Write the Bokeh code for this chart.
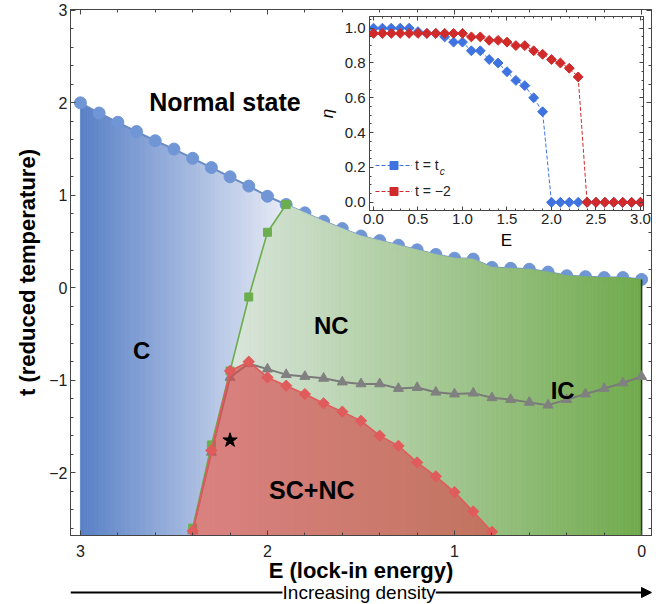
import numpy as np
from bokeh.plotting import figure
from bokeh.models import (Range1d, LinearAxis, FixedTicker, PrintfTickFormatter, Label,
                          Arrow, NormalHead, Legend, LegendItem)
from bokeh.layouts import column
from bokeh.core.properties import value
from bokeh.embed import file_html
from bokeh.resources import INLINE

# ---------------- data (main phase diagram) ----------------
E_normal = [3.0, 2.9, 2.8, 2.7, 2.6, 2.5, 2.4, 2.3, 2.2, 2.1, 2.0, 1.9, 1.8, 1.7, 1.6, 1.5,
            1.4, 1.3, 1.2, 1.1, 1.0, 0.9, 0.8, 0.7, 0.6, 0.5, 0.4, 0.3, 0.2, 0.1, 0.0]
t_normal = [2.00, 1.89, 1.79, 1.69, 1.59, 1.50, 1.40, 1.30, 1.20, 1.10, 0.99, 0.90, 0.81, 0.72,
            0.64, 0.56, 0.51, 0.46, 0.41, 0.36, 0.32, 0.31, 0.22, 0.21, 0.20, 0.17, 0.13, 0.12,
            0.11, 0.11, 0.09]

E_cnc = [2.4, 2.3, 2.2, 2.1, 2.0, 1.9]
t_cnc = [-2.60, -1.70, -0.90, -0.10, 0.60, 0.90]

E_sc = [2.4, 2.3, 2.2, 2.1, 2.0, 1.9, 1.8, 1.7, 1.6, 1.5, 1.4, 1.3, 1.2, 1.1, 1.0, 0.9, 0.8]
t_sc = [-2.63, -1.76, -0.90, -0.80, -0.97, -1.06, -1.15, -1.25, -1.34, -1.44, -1.60, -1.71,
        -1.89, -2.04, -2.21, -2.42, -2.64]

E_ic = [2.4, 2.3, 2.2, 2.1, 2.0, 1.9, 1.8, 1.7, 1.6, 1.5, 1.4, 1.3, 1.2, 1.1, 1.0, 0.9, 0.8,
        0.7, 0.6, 0.5, 0.4, 0.3, 0.2, 0.1, 0.0]
t_ic = [-2.63, -1.78, -0.97, -0.82, -0.88, -0.94, -0.96, -0.98, -1.02, -1.04, -1.04, -1.09,
        -1.08, -1.13, -1.15, -1.14, -1.19, -1.21, -1.24, -1.27, -1.21, -1.15, -1.09, -1.03, -0.96]

star_E = [2.2]
star_t = [-1.65]

region_names = ["Normal state", "C", "NC", "SC+NC", "IC"]
region_E = [2.227, 2.673, 1.659, 1.763, 0.422]
region_t = [2.004, -0.679, -0.408, -2.193, -1.112]

main_xticks = [0, 1, 2, 3]
main_yticks = [-2, -1, 0, 1, 2, 3]

# ---------------- data (inset) ----------------
E_inset = [0.0, 0.1, 0.2, 0.3, 0.4, 0.5, 0.6, 0.7, 0.8, 0.9, 1.0, 1.1, 1.2, 1.3, 1.4, 1.5,
           1.6, 1.7, 1.8, 1.9, 2.0, 2.1, 2.2, 2.3, 2.4, 2.5, 2.6, 2.7, 2.8, 2.9, 3.0]
eta_tc = [1.00, 1.00, 1.00, 1.00, 1.00, 0.98, 0.97, 0.97, 0.95, 0.92, 0.92, 0.87, 0.87, 0.82,
          0.80, 0.75, 0.70, 0.67, 0.60, 0.52, 0.0, 0.0, 0.0, 0.0, 0.0, 0.0, 0.0, 0.0, 0.0, 0.0, 0.0]
eta_m2 = [0.97, 0.97, 0.97, 0.97, 0.97, 0.97, 0.97, 0.97, 0.97, 0.97, 0.97, 0.95, 0.95, 0.93,
          0.93, 0.92, 0.90, 0.90, 0.87, 0.85, 0.82, 0.80, 0.77, 0.72, 0.0, 0.0, 0.0, 0.0, 0.0,
          0.0, 0.0]
inset_xticks = [0.0, 0.5, 1.0, 1.5, 2.0, 2.5, 3.0]
inset_yticks = [0.0, 0.2, 0.4, 0.6, 0.8, 1.0]

# ---------------- styles ----------------
FONT = "Liberation Sans"
YMIN, YMAX = -2.68, 3.01
XLEFT, XRIGHT = 3.053, -0.053
BLUE_DARK = np.array([88, 128, 198])
BLUE_LIGHT = np.array([232, 236, 246])
GREEN_DARK = np.array([112, 170, 76])
GREEN_LIGHT = np.array([222, 232, 226])
C_NORMAL = "#7096d6"
C_GREEN = "#6cae4e"
C_RED = "#e05c5c"
C_GRAY = "#808080"
C_IN_BLUE = "#3f73e0"
C_IN_RED = "#d12a2a"


def hexcol(c):
    c = np.clip(np.round(c), 0, 255).astype(int)
    return "#%02x%02x%02x" % tuple(c)


def interp_desc(x, xs, ys):
    xs = np.asarray(xs, float)[::-1]
    ys = np.asarray(ys, float)[::-1]
    return np.interp(x, xs, ys)


p = figure(width=667, height=604, x_range=Range1d(XLEFT, XRIGHT), y_range=Range1d(YMIN, YMAX),
           output_backend="svg", toolbar_location=None,
           min_border_left=67, min_border_right=15, min_border_top=9, min_border_bottom=69)
p.xgrid.visible = False
p.ygrid.visible = False
p.outline_line_color = "#444444"
p.background_fill_color = "white"
p.border_fill_color = "white"

# ---- gradient background strips (derived from the boundary data) ----
e_cmin, e_cmax = min(E_cnc), max(E_cnc)
edges = np.linspace(0.0, 3.0, 151)


def c_bottom(x):
    if x >= e_cmax - 1e-9:
        return YMIN
    return max(YMIN, float(interp_desc(x, E_cnc, t_cnc)))


def n_top(x):
    if x <= e_cmin + 1e-9:
        return float(interp_desc(x, E_normal, t_normal))
    return float(interp_desc(x, E_cnc, t_cnc))


c_xs, c_ys, c_cols = [], [], []
n_xs, n_ys, n_cols = [], [], []
for a, b in zip(edges[:-1], edges[1:]):
    xc = 0.5 * (a + b)
    if xc > e_cmin:
        ys = [c_bottom(a), c_bottom(b), float(interp_desc(b, E_normal, t_normal)),
              float(interp_desc(a, E_normal, t_normal))]
        f = np.clip((3.0 - xc) / (3.0 - e_cmin), 0, 1)
        c_xs.append([a, b, b, a]); c_ys.append(ys)
        c_cols.append(hexcol(BLUE_DARK + f * (BLUE_LIGHT - BLUE_DARK)))
    if xc < e_cmax:
        ys = [YMIN, YMIN, n_top(b), n_top(a)]
        f = np.clip(xc / (e_cmax - 0.1), 0, 1)
        n_xs.append([a, b, b, a]); n_ys.append(ys)
        n_cols.append(hexcol(GREEN_DARK + f * (GREEN_LIGHT - GREEN_DARK)))

p.patches(c_xs, c_ys, fill_color=c_cols, line_color=c_cols, line_width=0.8)

# normal-state boundary
p.line(E_normal, t_normal, line_color="#6a8cc4", line_width=2)
p.scatter(E_normal, t_normal, marker="circle", size=12, fill_color=C_NORMAL, line_color=C_NORMAL)

# NC region drawn over the circles
p.patches(n_xs, n_ys, fill_color=n_cols, line_color=n_cols, line_width=0.8)
p.segment(x0=[E_normal[-1]], y0=[YMIN], x1=[E_normal[-1]], y1=[t_normal[-1]],
          line_color="#333333", line_width=1.5)

# C/NC boundary
p.line(E_cnc, t_cnc, line_color=C_GREEN, line_width=1.6)
p.scatter(E_cnc, t_cnc, marker="square", size=8, fill_color=C_GREEN, line_color=C_GREEN)

# IC boundary
p.line(E_ic, t_ic, line_color="#7a7a7a", line_width=2)
p.scatter(E_ic, t_ic, marker="triangle", size=10, fill_color=C_GRAY, line_color=C_GRAY)

# SC+NC region
p.varea(x=E_sc, y1=YMIN, y2=t_sc, fill_color="#d65050", fill_alpha=0.68)
p.line(E_sc, t_sc, line_color=C_RED, line_width=1.6)
p.scatter(E_sc, t_sc, marker="square", angle=np.pi / 4, size=8, fill_color=C_RED, line_color=C_RED)

# star
p.scatter(star_E, star_t, marker="star", size=15, fill_color="black", line_color="black")

# region labels
p.text(x=region_E, y=region_t, text=region_names, text_font=value(FONT), text_font_style="bold",
       text_font_size=["25px", "24px", "24px", "25px", "24px"], text_align="center",
       text_baseline="alphabetic", text_color="black")

# ---- axes ----
minor_x = [round(v, 2) for v in np.arange(0.0, 3.01, 0.2)]
minor_y = [round(v, 2) for v in np.arange(-2.6, 3.01, 0.2)]


def style_axis(ax, ticks, labels=True):
    ax.axis_line_color = "#444444"
    ax.major_tick_line_color = "#444444"
    ax.minor_tick_line_color = "#444444"
    ax.major_tick_in = 5
    ax.major_tick_out = 0
    ax.minor_tick_in = 3
    ax.minor_tick_out = 0
    if labels:
        ax.major_label_text_font = FONT
        ax.major_label_text_font_size = "16px"
        ax.major_label_text_color = "#222222"
        ax.axis_label_text_font = FONT
        ax.axis_label_text_font_style = "bold"
        ax.axis_label_text_font_size = "22px"
        ax.axis_label_text_color = "black"
    else:
        ax.major_label_overrides = {t: "" for t in ticks}
        ax.major_label_text_font_size = "1px"
        ax.major_label_standoff = 0
        ax.axis_label = None


p.xaxis.ticker = FixedTicker(ticks=main_xticks, minor_ticks=minor_x)
p.yaxis.ticker = FixedTicker(ticks=main_yticks, minor_ticks=minor_y)
style_axis(p.xaxis[0], main_xticks)
style_axis(p.yaxis[0], main_yticks)
p.xaxis.axis_label = "E (lock-in energy)"
p.yaxis.axis_label = "t (reduced temperature)"
p.xaxis.major_label_standoff = 9
p.xaxis.axis_label_standoff = -2
p.yaxis.major_label_standoff = 3
p.yaxis.axis_label_standoff = 6
p.yaxis.major_label_overrides = {-1: "\u22121", -2: "\u22122"}

ax_top = LinearAxis(ticker=FixedTicker(ticks=main_xticks, minor_ticks=minor_x))
style_axis(ax_top, main_xticks, labels=False)
p.add_layout(ax_top, "above")
ax_right = LinearAxis(ticker=FixedTicker(ticks=main_yticks, minor_ticks=minor_y))
style_axis(ax_right, main_yticks, labels=False)
p.add_layout(ax_right, "right")

# ---------------- density arrow strip (own small canvas, same E scale) ----------------
ARROW_TEXT_LEFT, ARROW_TEXT_RIGHT = 1.92, 1.10
pa = figure(width=667, height=24, x_range=Range1d(XLEFT, XRIGHT),
            y_range=Range1d(0, 1), output_backend="svg", toolbar_location=None,
            min_border_left=67, min_border_right=15, min_border_top=0, min_border_bottom=0,
            x_axis_type=None, y_axis_type=None)
pa.outline_line_color = None
pa.background_fill_alpha = 0
pa.border_fill_alpha = 0
pa.xgrid.visible = False
pa.ygrid.visible = False
pa.segment(x0=[XLEFT], y0=[0.5], x1=[ARROW_TEXT_LEFT], y1=[0.5], line_color="black", line_width=2)
pa.add_layout(Arrow(x_start=ARROW_TEXT_RIGHT, y_start=0.5, x_end=XRIGHT, y_end=0.5,
                    line_color="black", line_width=2,
                    end=NormalHead(size=10, fill_color="black", line_color="black")))
pa.add_layout(Label(x=0.5 * (ARROW_TEXT_LEFT + ARROW_TEXT_RIGHT), y=0.5, text="Increasing density",
                    text_align="center", text_baseline="middle", text_font=FONT,
                    text_font_size="19px", text_color="black"))
pa.styles = {"position": "absolute", "left": "0px", "top": "580px"}

# ---------------- inset ----------------
pi = figure(width=360, height=246, x_range=Range1d(-0.045, 3.034), y_range=Range1d(-0.047, 1.067),
            output_backend="svg", toolbar_location=None,
            min_border_left=70, min_border_right=16, min_border_top=10, min_border_bottom=41)
pi.xgrid.visible = False
pi.ygrid.visible = False
pi.border_fill_alpha = 0
pi.background_fill_color = "white"
pi.outline_line_color = "#444444"
pi.styles = {"position": "absolute", "left": "299px", "top": "6px"}

rb_l = pi.line(E_inset, eta_tc, line_color=C_IN_BLUE, line_width=1, line_dash="4 2")
rb_s = pi.scatter(E_inset, eta_tc, marker="square", angle=np.pi / 4, size=7,
                  fill_color=C_IN_BLUE, line_color=C_IN_BLUE)
rr_l = pi.line(E_inset, eta_m2, line_color=C_IN_RED, line_width=1, line_dash="4 2")
rr_s = pi.scatter(E_inset, eta_m2, marker="square", angle=np.pi / 4, size=7,
                  fill_color=C_IN_RED, line_color=C_IN_RED)

in_minor_x = [round(v, 2) for v in np.arange(0, 3.01, 0.1)]
in_minor_y = [round(v, 3) for v in np.arange(0, 1.06, 0.05)]


def style_inset_axis(ax, ticks, labels=True):
    ax.axis_line_color = "#444444"
    ax.major_tick_line_color = "#444444"
    ax.minor_tick_line_color = "#444444"
    ax.major_tick_in = 4
    ax.major_tick_out = 0
    ax.minor_tick_in = 2
    ax.minor_tick_out = 0
    if labels:
        ax.major_label_text_font = FONT
        ax.major_label_text_font_size = "15px"
        ax.major_label_text_color = "#222222"
        ax.axis_label_text_font = FONT
        ax.axis_label_text_font_size = "17px"
        ax.axis_label_text_font_style = "normal"
        ax.axis_label_text_color = "black"
        ax.formatter = PrintfTickFormatter(format="%.1f")
    else:
        ax.major_label_overrides = {t: "" for t in ticks}
        ax.major_label_text_font_size = "1px"
        ax.major_label_standoff = 0
        ax.axis_label = None


pi.xaxis.ticker = FixedTicker(ticks=inset_xticks, minor_ticks=in_minor_x)
pi.yaxis.ticker = FixedTicker(ticks=inset_yticks, minor_ticks=in_minor_y)
style_inset_axis(pi.xaxis[0], inset_xticks)
style_inset_axis(pi.yaxis[0], inset_yticks)
pi.xaxis.axis_label = "E"
pi.yaxis.axis_label = "\u03b7"
pi.yaxis.axis_label_text_font_style = "italic"
pi.xaxis.major_label_standoff = 3
pi.xaxis.axis_label_standoff = 4
pi.yaxis.major_label_standoff = 4
pi.yaxis.axis_label_standoff = 5
iax_top = LinearAxis(ticker=FixedTicker(ticks=inset_xticks, minor_ticks=in_minor_x))
style_inset_axis(iax_top, inset_xticks, labels=False)
pi.add_layout(iax_top, "above")
iax_right = LinearAxis(ticker=FixedTicker(ticks=inset_yticks, minor_ticks=in_minor_y))
style_inset_axis(iax_right, inset_yticks, labels=False)
pi.add_layout(iax_right, "right")

legend = Legend(items=[LegendItem(label="t = t", renderers=[rb_l, rb_s]),
                       LegendItem(label="t = \u22122", renderers=[rr_l, rr_s])],
                location=(6, 9), orientation="vertical", glyph_width=37, glyph_height=20,
                label_height=20, spacing=6, label_standoff=3, padding=0, margin=0,
                background_fill_alpha=0, border_line_alpha=0,
                label_text_font=FONT, label_text_font_size="14px", label_text_color="#222222")
pi.add_layout(legend)
pi.add_layout(Label(x=0.745, y=0.176, text="c", text_font=FONT, text_font_size="10px",
                    text_font_style="italic", text_color="#222222", text_baseline="alphabetic"))

layout = column(p, pi, pa, styles={"position": "relative"})
open("out.html", "w").write(file_html(layout, INLINE))
